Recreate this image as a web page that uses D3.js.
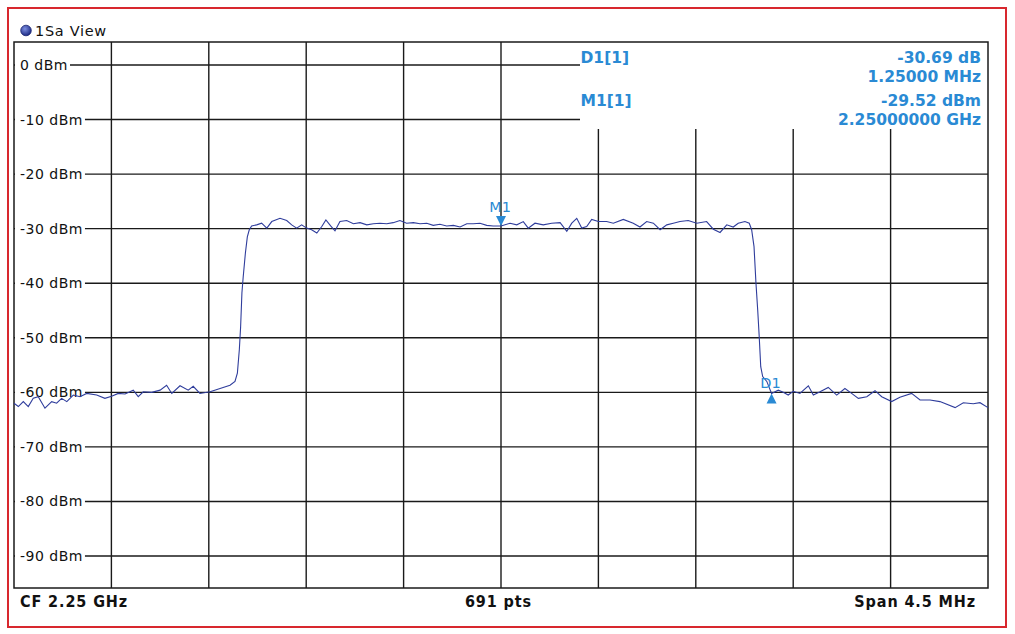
<!DOCTYPE html>
<html><head><meta charset="utf-8">
<script src="https://cdn.jsdelivr.net/npm/d3@7"></script>
<style>body{margin:0;background:#fff}svg{display:block}</style>
</head><body><svg id="c" width="1015" height="634"></svg>
<script>
// ---- data ----
const yTickValues = [0,-10,-20,-30,-40,-50,-60,-70,-80,-90];
const yTickLabels = ["0 dBm","-10 dBm","-20 dBm","-30 dBm","-40 dBm","-50 dBm","-60 dBm","-70 dBm","-80 dBm","-90 dBm"];
const xGridMHz = [-1.8,-1.35,-0.9,-0.45,0,0.45,0.9,1.35,1.8];
const footerLabels = ["CF 2.25 GHz","691 pts","Span 4.5 MHz"];
const titleText = "1Sa View";
const traceMHz = [-2.250,-2.230,-2.207,-2.184,-2.161,-2.138,-2.107,-2.076,-2.053,-2.030,-2.006,-1.976,-1.945,-1.914,-1.868,-1.830,-1.799,-1.768,-1.737,-1.699,-1.676,-1.653,-1.614,-1.575,-1.545,-1.521,-1.483,-1.445,-1.422,-1.391,-1.344,-1.298,-1.252,-1.229,-1.218,-1.209,-1.203,-1.197,-1.191,-1.181,-1.172,-1.163,-1.152,-1.129,-1.106,-1.082,-1.059,-1.021,-0.990,-0.967,-0.944,-0.921,-0.898,-0.875,-0.851,-0.828,-0.809,-0.787,-0.767,-0.744,-0.713,-0.682,-0.651,-0.620,-0.590,-0.559,-0.528,-0.498,-0.467,-0.436,-0.405,-0.374,-0.343,-0.313,-0.282,-0.251,-0.220,-0.189,-0.158,-0.128,-0.097,-0.066,-0.036,0,0.042,0.073,0.103,0.126,0.157,0.195,0.234,0.273,0.304,0.327,0.350,0.373,0.396,0.419,0.450,0.488,0.519,0.565,0.611,0.642,0.673,0.704,0.735,0.766,0.796,0.827,0.865,0.904,0.950,0.981,1.012,1.043,1.073,1.096,1.127,1.147,1.158,1.169,1.178,1.186,1.193,1.200,1.209,1.228,1.250,1.281,1.304,1.327,1.350,1.381,1.420,1.443,1.474,1.512,1.551,1.589,1.620,1.651,1.690,1.728,1.759,1.805,1.843,1.897,1.936,1.982,2.028,2.098,2.136,2.182,2.213,2.250];
const traceDbm = [-62.0,-62.6,-61.7,-62.6,-61.1,-60.8,-62.9,-61.7,-62.0,-61.1,-61.7,-60.5,-60.8,-60.2,-60.5,-61.1,-60.7,-60.2,-60.3,-59.6,-60.8,-59.9,-60.0,-59.6,-58.7,-60.2,-58.8,-59.6,-58.9,-60.2,-59.9,-59.3,-58.7,-58.0,-56.5,-52.2,-48.0,-41.8,-38.8,-34.5,-31.5,-30.2,-29.5,-29.3,-29.0,-29.9,-28.7,-28.1,-28.5,-29.3,-29.9,-29.3,-29.9,-30.2,-30.8,-29.6,-28.4,-29.5,-30.4,-28.7,-28.5,-29.1,-28.9,-29.3,-29.1,-29.0,-29.1,-28.9,-28.5,-29.0,-28.9,-29.1,-29.0,-29.4,-29.2,-29.5,-29.4,-29.7,-29.1,-29.1,-29.0,-29.4,-29.5,-29.52,-29.0,-29.3,-28.7,-29.9,-29.0,-29.3,-29.0,-28.9,-30.5,-29.0,-28.1,-29.9,-29.6,-28.3,-28.7,-28.7,-29.0,-28.3,-29.0,-29.7,-28.7,-29.0,-30.2,-29.3,-29.0,-28.7,-28.5,-29.0,-28.7,-30.1,-30.7,-29.3,-29.7,-29.0,-28.7,-29.0,-30.2,-33.3,-40.0,-44.9,-49.8,-55.3,-57.1,-58.0,-60.21,-59.6,-60.0,-60.5,-59.8,-60.2,-58.8,-60.5,-59.9,-59.1,-60.5,-59.3,-60.2,-61.1,-60.8,-59.7,-60.8,-61.7,-60.9,-60.2,-61.4,-61.4,-61.7,-62.8,-61.9,-62.1,-61.9,-62.8];
const markerNames = ["M1","D1"];
const markerMHz = [0, 1.25];
const markerDbm = [-29.52, -60.21];
const markerDir = ["down","up"];
const infoNames = ["D1[1]","M1[1]"];
const infoValues = ["-30.69 dB","-29.52 dBm"];
const infoFreqs = ["1.25000 MHz","2.25000000 GHz"];

// ---- layout ----
const svg = d3.select("#c");
const L=14, R=988, T=42, B=588;
const x = d3.scaleLinear().domain([-2.25,2.25]).range([L,R]);
const y = d3.scaleLinear().domain([0,-90]).range([65,556]);
const infoLeft = 580, infoBottom = 129;
const gridColor = "#1a1a1a";
const blue = "#2a8ad4";

// frame
svg.append("rect").attr("x",8).attr("y",8).attr("width",998).attr("height",619)
  .attr("fill","none").attr("stroke","#d8282e").attr("stroke-width",2);

// title
const grad = svg.append("defs").append("radialGradient").attr("id","g1").attr("cx","40%").attr("cy","35%").attr("r","65%");
grad.append("stop").attr("offset","0%").attr("stop-color","#7d8fe0");
grad.append("stop").attr("offset","100%").attr("stop-color","#1c2a85");
svg.append("circle").attr("cx",26).attr("cy",30.5).attr("r",5.3).attr("fill","url(#g1)").attr("stroke","#1b2470").attr("stroke-width",0.8);
svg.append("text").attr("x",35).attr("y",35.5).text(titleText)
  .attr("font-family","DejaVu Sans, Verdana, sans-serif").attr("font-size",14.5).attr("letter-spacing",0.7).attr("fill","#111");

// grid
const g = svg.append("g");
g.selectAll("line.h").data(yTickValues).join("line").attr("class","h")
  .attr("x1",L).attr("x2",d=> d>=-10 ? infoLeft : R)
  .attr("y1",d=>y(d)).attr("y2",d=>y(d))
  .attr("stroke",gridColor).attr("stroke-width",1.4);
g.selectAll("line.v").data(xGridMHz).join("line").attr("class","v")
  .attr("x1",d=>x(d)).attr("x2",d=>x(d))
  .attr("y1",d=> x(d)>infoLeft ? infoBottom : T).attr("y2",B)
  .attr("stroke",gridColor).attr("stroke-width",1.4);
svg.append("rect").attr("x",L).attr("y",T).attr("width",R-L).attr("height",B-T)
  .attr("fill","none").attr("stroke",gridColor).attr("stroke-width",1.5);

// y labels with white background
const yl = svg.append("g");
yTickValues.forEach((v,i)=>{
  const t = yl.append("text").attr("x",20).attr("y",y(v)+5).text(yTickLabels[i])
    .attr("font-family","DejaVu Sans, Verdana, sans-serif").attr("font-size",14).attr("letter-spacing",0.5).attr("fill","#111");
  const w = t.node().getComputedTextLength();
  yl.insert("rect","text").attr("x",L+1).attr("y",y(v)-3).attr("width",21+w-L).attr("height",6).attr("fill","#fff");
});

// trace
const pts = traceMHz.map((f,i)=>[f,traceDbm[i]]);
svg.append("path").datum(pts)
  .attr("d", d3.line().x(d=>x(d[0])).y(d=>y(d[1])))
  .attr("fill","none").attr("stroke","#2f3d9c").attr("stroke-width",1.1);

// markers
markerNames.forEach((n,i)=>{
  const mx = x(markerMHz[i]), my = y(markerDbm[i]);
  const p = markerDir[i]==="down"
    ? `M${mx-5},${my-10}L${mx+5},${my-10}L${mx},${my}Z`
    : `M${mx-5},${my+10}L${mx+5},${my+10}L${mx},${my}Z`;
  svg.append("path").attr("d",p).attr("fill",blue);
  svg.append("text").attr("x",mx-1).attr("y", markerDir[i]==="down" ? my-14 : my-5)
    .attr("text-anchor","middle").text(n)
    .attr("font-family","DejaVu Sans, Verdana, sans-serif").attr("font-size",14.5).attr("fill",blue);
});

// marker info table
const infoFont = "DejaVu Sans, Verdana, sans-serif";
infoNames.forEach((n,i)=>{
  const by = 62.7 + i*43;
  svg.append("text").attr("x",580.5).attr("y",by).text(n)
    .attr("font-family",infoFont).attr("font-weight","bold").attr("font-size",15.5).attr("fill",blue);
  svg.append("text").attr("x",981).attr("y",by).attr("text-anchor","end").text(infoValues[i])
    .attr("font-family",infoFont).attr("font-weight","bold").attr("font-size",15.5).attr("fill",blue);
  svg.append("text").attr("x",981).attr("y",by+19.7).attr("text-anchor","end").text(infoFreqs[i])
    .attr("font-family",infoFont).attr("font-weight","bold").attr("font-size",15.5).attr("fill",blue);
});

// footer
const footFont = "DejaVu Sans Condensed, DejaVu Sans, sans-serif";
const fx = [20, 498.5, 976], fa = ["start","middle","end"];
footerLabels.forEach((t,i)=>{
  svg.append("text").attr("x",fx[i]).attr("y",606.5).attr("text-anchor",fa[i]).text(t)
    .attr("font-family",footFont).attr("font-weight","bold").attr("font-size",16).attr("letter-spacing",0.9).attr("fill","#111");
});
</script></body></html>
